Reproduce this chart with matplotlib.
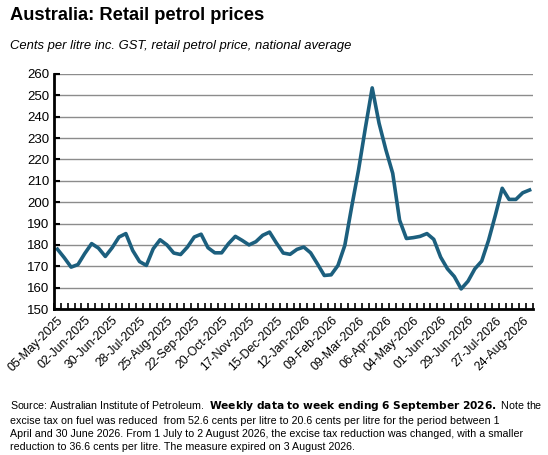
import matplotlib.pyplot as plt
import pandas as pd

weeks = pd.date_range("2025-05-05", periods=70, freq="7D")
prices = [178, 174, 169.6, 170.8, 176, 180.6, 178.5, 174.6, 178.7, 183.7,
          185.3, 177.4, 172.2, 170.4, 178.2, 182.4, 180, 176.2, 175.5, 179,
          183.7, 185, 178.7, 176.3, 176.3, 180.6, 184, 182.1, 180, 181.5,
          184.5, 186, 180.9, 176.2, 175.6, 177.9, 179, 176.3, 171.1, 165.7,
          166, 170.4, 179.8, 197.8, 215, 234.7, 253.5, 237, 224.5, 213.5,
          191.6, 183, 183.4, 184, 185.3, 182.6, 174.3, 168.8, 165.2, 159.4,
          163, 168.8, 172.4, 182.1, 193.9, 206.5, 201.3, 201.3, 204.4, 205.7]

plt.rcParams["font.family"] = ["Liberation Sans", "DejaVu Sans"]
fig = plt.figure(figsize=(5.48, 4.55), dpi=100)
ax = fig.add_axes([54/548, 146/455, 479/548, 235/455])

x = list(range(len(weeks)))
ax.plot(x, prices, color="#1c5f7e", lw=2.6)
ax.set_xlim(-0.5, 69.5)
ax.set_ylim(150, 260)
ax.set_yticks(range(150, 261, 10))
ax.yaxis.grid(True, color="#8c8c8c", lw=1)
ax.set_axisbelow(True)
ax.set_xticks(x[::4])
ax.set_xticklabels([d.strftime("%d-%b-%Y") for d in weeks[::4]], rotation=45, ha="right",
                   rotation_mode="anchor", fontsize=8.8)
ax.set_xticks([i + 0.5 for i in range(-1, 70)], minor=True)
ax.tick_params(axis="x", which="major", length=0, pad=4)
ax.tick_params(axis="x", which="minor", length=4, width=1.2, direction="in")
ax.tick_params(axis="y", labelsize=9.5, length=4, width=1.5, direction="in")
for s in ["top", "right"]:
    ax.spines[s].set_visible(False)
ax.spines["left"].set_linewidth(2)
ax.spines["bottom"].set_linewidth(2)

fig.text(0.018, 0.955, "Australia: Retail petrol prices", fontsize=13.2, fontweight="bold")
fig.text(0.018, 0.893, "Cents per litre inc. GST, retail petrol price, national average",
         fontsize=9.4, style="italic")
fig.text(0.018, 0.012,
         "Source: Australian Institute of Petroleum.  $\\bf{Weekly\\ data\\ to\\ week\\ ending\\ 6\\ September\\ 2026.}$ Note the\n"
         "excise tax on fuel was reduced  from 52.6 cents per litre to 20.6 cents per litre for the period between 1\n"
         "April and 30 June 2026. From 1 July to 2 August 2026, the excise tax reduction was changed, with a smaller\n"
         "reduction to 36.6 cents per litre. The measure expired on 3 August 2026.",
         fontsize=7.7, linespacing=1.35)

fig.savefig("out.png", dpi=100)
